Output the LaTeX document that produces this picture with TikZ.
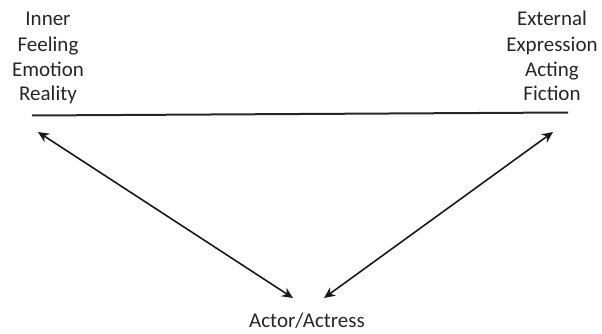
\documentclass[tikz,border=0pt]{standalone}
\usepackage{fontspec}
\setmainfont{Carlito}
\usetikzlibrary{arrows.meta}
\begin{document}
\begin{tikzpicture}[x=1pt,y=-1pt,
  lbl/.style={align=center,font=\fontsize{21}{25.6}\selectfont,text=black!85,inner sep=0pt},
  biarrow/.style={{Stealth[length=11pt,width=10pt]}-{Stealth[length=11pt,width=10pt]},line width=1.6pt,black!90}]
\useasboundingbox (0,0) rectangle (602,334);
\node[lbl,anchor=base] (lt) at (48,26) {Inner};
\node[lbl,anchor=base] (lt2) at (48,52) {Feeling};
\node[lbl,anchor=base] (lt3) at (48,77) {Emotion};
\node[lbl,anchor=base] (lt4) at (48,101) {Reality};
\node[lbl,anchor=base] (rt) at (552,26) {External};
\node[lbl,anchor=base] (rt2) at (552,52) {Expression};
\node[lbl,anchor=base] (rt3) at (552,77) {Acting};
\node[lbl,anchor=base] (rt4) at (552,101) {Fiction};
\node[lbl,anchor=base] (actor) at (307,327) {Actor/Actress};
\coordinate (lineL) at (32,115.5);
\coordinate (lineR) at (568,112.5);
\draw[line width=2pt,black!85] (lineL) -- (lineR);
\coordinate (tl) at (38,132);
\coordinate (bl) at (293,298);
\coordinate (tr) at (553,132);
\coordinate (br) at (324,298);
\draw[biarrow] (tl) -- (bl);
\draw[biarrow] (tr) -- (br);
\end{tikzpicture}
\end{document}
